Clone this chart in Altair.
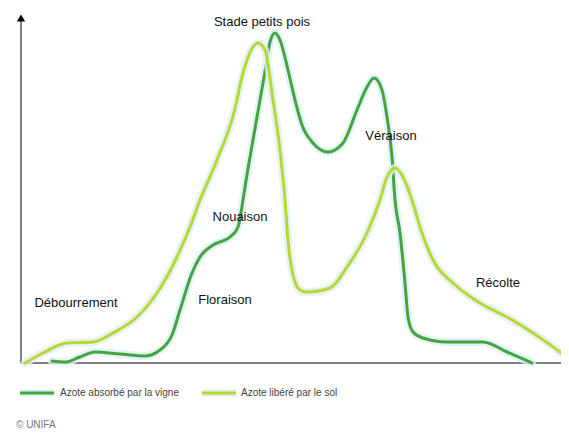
import altair as alt
import pandas as pd

# Azote absorbé par la vigne (dark green) — x: time (arbitrary), y: nitrogen (arbitrary)
absorbe_x = [31, 44, 59, 74, 99, 124, 139, 151, 159, 171, 179, 192, 209, 217, 222, 224, 232, 239, 246, 249, 254, 259, 267, 274, 281, 292, 307, 322, 336, 346, 353, 361, 366, 371, 374, 379, 384, 387, 392, 402, 426, 462, 486, 511]
absorbe_y = [2, 1, 6, 11, 9, 7, 13, 28, 53, 90, 106, 118, 126, 136, 163, 176, 223, 263, 303, 321, 330, 323, 293, 263, 238, 220, 211, 220, 253, 276, 285, 273, 246, 206, 163, 130, 80, 46, 31, 25, 21, 21, 11, 0]

# Azote libéré par le sol (yellow-green)
libere_x = [4, 22, 46, 72, 92, 116, 136, 156, 169, 179, 196, 216, 219, 226, 237, 244, 252, 259, 264, 267, 272, 279, 286, 309, 326, 346, 359, 366, 374, 382, 391, 399, 412, 432, 459, 486, 512, 546]
libere_y = [0, 10, 20, 21, 30, 46, 70, 106, 136, 163, 203, 263, 278, 303, 320, 313, 263, 213, 163, 123, 88, 73, 71, 75, 96, 130, 163, 186, 195, 186, 163, 136, 103, 80, 60, 46, 30, 6]

stage_labels = ["Stade petits pois", "Véraison", "Nouaison", "Floraison", "Débourrement", "Récolte"]
stage_x = [241, 370, 219, 204, 55, 477]
stage_y = [341, 227, 146, 63, 60, 80]

series_names = ["Azote absorbé par la vigne", "Azote libéré par le sol"]
colors = ["#45a43c", "#bdd62e"]
source = "© UNIFA"

FONT = "Liberation Sans, Arial, sans-serif"

x_scale = alt.Scale(domain=[-13, 540], nice=False, zero=False)
y_scale = alt.Scale(domain=[-66, 355], nice=False, zero=False)
X = lambda f: alt.X(f, type="quantitative", scale=x_scale, axis=None)
Y = lambda f: alt.Y(f, type="quantitative", scale=y_scale, axis=None)

df_a = pd.DataFrame({"x": absorbe_x, "y": absorbe_y, "s": series_names[0]})
df_l = pd.DataFrame({"x": libere_x, "y": libere_y, "s": series_names[1]})

def curve(df, color):
    glow = alt.Chart(df).mark_line(interpolate="monotone", strokeWidth=8, color="#dcf0fb", opacity=0.8,
                                   strokeCap="round").encode(x=X("x"), y=Y("y"))
    line = alt.Chart(df).mark_line(interpolate="monotone", strokeWidth=3, color=color,
                                   strokeCap="round").encode(x=X("x"), y=Y("y"))
    return glow + line

# axes
axes_df = pd.DataFrame({"x": [0, 0], "y": [0, 0], "x2": [0, 544], "y2": [343, 0]})
axes = alt.Chart(axes_df).mark_rule(color="#808080", strokeWidth=2).encode(
    x=X("x"), y=Y("y"), x2="x2", y2="y2")
arrow = alt.Chart(pd.DataFrame({"x": [0], "y": [345]})).mark_point(
    shape="triangle-up", filled=True, color="#000000", size=70, opacity=1).encode(x=X("x"), y=Y("y"))

labels_df = pd.DataFrame({"t": stage_labels, "x": stage_x, "y": stage_y})
labels = alt.Chart(labels_df).mark_text(font=FONT, fontSize=13, color="#111111", align="center",
                                        baseline="middle").encode(x=X("x"), y=Y("y"), text="t:N")

# legend
leg_df = pd.DataFrame({"x": [-1, 181], "x2": [33, 215], "y": [-30, -30], "s": series_names,
                       "tx": [39, 220], "c": colors})
leg_glow = alt.Chart(leg_df).mark_rule(strokeWidth=7, color="#dcf0fb").encode(
    x=X("x"), x2="x2", y=Y("y"))
leg_lines = alt.Chart(leg_df).mark_rule(strokeWidth=3).encode(
    x=X("x"), x2="x2", y=Y("y"), color=alt.Color("c:N", scale=None))
leg_text = alt.Chart(leg_df).mark_text(font=FONT, fontSize=10, color="#444444", align="left",
                                       baseline="middle").encode(x=X("tx"), y=Y("y"), text="s:N")
src = alt.Chart(pd.DataFrame({"t": [source], "x": [-5], "y": [-62]})).mark_text(
    font=FONT, fontSize=10, color="#777777", align="left", baseline="middle").encode(
    x=X("x"), y=Y("y"), text="t:N")

chart = alt.layer(
    axes, arrow,
    curve(df_a, colors[0]), curve(df_l, colors[1]),
    labels, leg_glow, leg_lines, leg_text, src
).properties(width=553, height=421, autosize=alt.AutoSizeParams(type="none"), padding=0,
             background="white").configure_view(stroke=None)

chart.save("out.html", embed_options={"renderer": "svg", "actions": False})
